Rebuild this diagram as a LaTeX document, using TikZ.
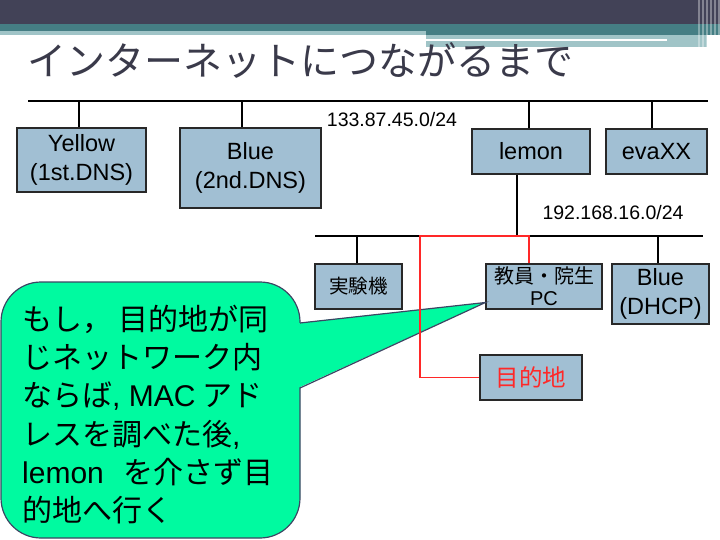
\documentclass[tikz,border=0pt]{standalone}
\usepackage{fontspec}
\setmainfont{Liberation Sans}
\newfontfamily\jp{Noto Sans CJK JP}
\usetikzlibrary{positioning,calc}

\definecolor{headdark}{RGB}{66,66,87}
\definecolor{headteal}{RGB}{69,126,132}
\definecolor{headlight}{RGB}{160,196,199}
\definecolor{titlegray}{RGB}{58,58,74}
\definecolor{boxfill}{RGB}{161,191,211}
\definecolor{boxline}{RGB}{40,40,40}
\definecolor{notefill}{RGB}{0,250,160}
\definecolor{noteline}{RGB}{60,70,100}
\definecolor{routered}{RGB}{255,40,40}

\begin{document}
\begin{tikzpicture}[
  x=1pt, y=-1pt,
  box/.style={rectangle, draw=boxline, fill=boxfill, line width=1.2pt, align=center, inner sep=0pt, font=\fontsize{23.5}{29}\selectfont},
  jpbox/.style={box, font=\jp\fontsize{19.5}{22}\selectfont},
  netlabel/.style={font=\fontsize{19.5}{22}\selectfont, inner sep=0pt},
  bus/.style={line width=1.6pt, black},
  stem/.style={line width=1.6pt, black},
  redline/.style={line width=1.6pt, routered},
  note/.style={fill=notefill, draw=noteline, line width=1.2pt},
]
\useasboundingbox (0,0) rectangle (720,540);

% === HEADER ===
\fill[headdark] (0,0) rectangle (720,24);
\fill[headteal] (0,24) rectangle (720,31);
\fill[headlight] (0,31) rectangle (426,35);
\fill[headteal] (426,31) rectangle (720,35);
\fill[headlight] (426,35) rectangle (707,47);
\fill[white] (426,39) rectangle (667,41);
\foreach \x in {698,702,706,710,714,718}
  \fill[white, opacity=0.35] (\x,0) rectangle (\x+1.5,47);

\node[anchor=west, inner sep=0pt, text=titlegray, font=\jp\fontsize{39}{44}\selectfont] (title) at (27,60) {インターネットにつながるまで};

% === OUTER NETWORK ===
\coordinate (bus1w) at (28,101);
\coordinate (bus1e) at (708,101);
\draw[bus] (bus1w) -- (bus1e);
\node[netlabel] (net1) at (392,120) {133.87.45.0/24};

\node[box, minimum width=129pt, minimum height=64pt] (yellow) at (81.5,160) {Yellow\\(1st.DNS)};
\node[box, minimum width=141pt, minimum height=80pt] (blue2) at (250.5,168) {Blue\\(2nd.DNS)};
\node[box, minimum width=118pt, minimum height=45pt] (lemon) at (531,151.5) {lemon};
\node[box, minimum width=101pt, minimum height=45pt] (eva) at (656.5,151.5) {evaXX};

\foreach \n/\x in {yellow/79, blue2/242, lemon/529, eva/652} {
  \coordinate (\n-tap) at (\x,101);
  \draw[stem] (\n-tap) -- (\n-tap |- \n.north);
}

% === INNER NETWORK ===
\coordinate (bus2w) at (315,236);
\coordinate (bus2e) at (703,236);
\coordinate (lemon-down) at (517,236);
\draw[bus] (bus2w) -- (bus2e);
\draw[stem] (lemon.south -| lemon-down) -- (lemon-down);
\node[netlabel] (net2) at (613,213) {192.168.16.0/24};

\node[jpbox, minimum width=87pt, minimum height=45pt] (jikken) at (358.5,286.5) {実験機};
\node[box, minimum width=116pt, minimum height=45pt, font=\fontsize{20}{22}\selectfont] (pc) at (544,286.5) {{\jp 教員・院生}\\PC};
\node[box, minimum width=97pt, minimum height=60pt] (dhcp) at (660.5,294) {Blue\\(DHCP)};
\node[box, minimum width=102pt, minimum height=45pt, text=routered, font=\jp\fontsize{23.5}{26}\selectfont] (dest) at (531,377.5) {目的地};

\foreach \n/\x in {jikken/357, dhcp/658} {
  \coordinate (\n-tap) at (\x,236);
  \draw[stem] (\n-tap) -- (\n-tap |- \n.north);
}

% === CALLOUT ===
\coordinate (tip) at ([yshift=-16pt]pc.west);
\draw[note, rounded corners=40pt] (1,282) rectangle (300,538);
\fill[notefill] (298,323) -- (tip) -- (298,388) -- cycle;
\draw[noteline, line width=1.2pt] (300,323) -- (tip) -- (300,388);
\node[anchor=north west, inner sep=0pt, align=left, font=\jp\fontsize{30}{38.2}\selectfont] (notetext) at (22,305)
  {もし，\ 目的地が同\\じネットワーク内\\ならば{\rmfamily, MAC} アド\\レスを調べた後{\rmfamily,}\\{\rmfamily lemon}\hspace{20pt}を介さず目\\的地へ行く};

% === ROUTE ===
\coordinate (red-turn) at (420,236);
\draw[redline] ([xshift=-15pt]pc.north) |- (red-turn) |- (dest.west);
\end{tikzpicture}
\end{document}
